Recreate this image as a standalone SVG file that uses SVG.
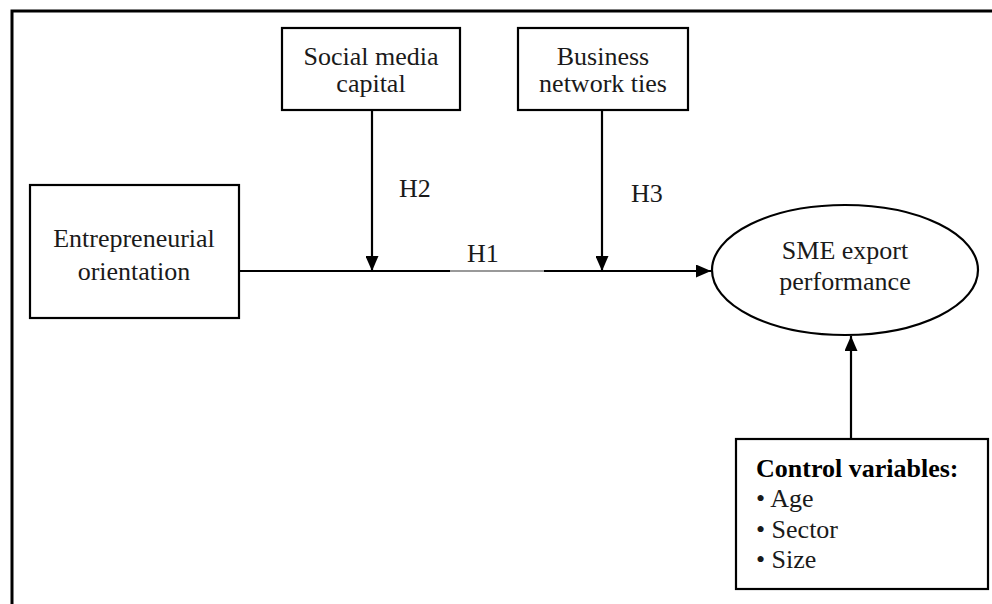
<svg xmlns="http://www.w3.org/2000/svg" width="992" height="604" viewBox="0 0 992 604">
<defs>
<style>
.box{fill:#fff;stroke:#000;stroke-width:2.2}
.t{font-family:"Liberation Serif","Times New Roman",serif;font-size:26px;fill:#1a1a1a;text-anchor:middle}
.l{font-family:"Liberation Serif","Times New Roman",serif;font-size:26px;fill:#1a1a1a}
.b{font-weight:bold;fill:#000}
.c{stroke:#000;stroke-width:2.2;fill:none}
</style>
<marker id="ah" markerWidth="15" markerHeight="13" refX="15" refY="6.5" orient="auto" markerUnits="userSpaceOnUse">
<path d="M0,0 L15,6.5 L0,13 Z" fill="#000"/>
</marker>
</defs>
<rect width="992" height="604" fill="#fff"/>
<path d="M12,604 V11 H992" fill="none" stroke="#000" stroke-width="3"/>

<g id="connectors">
<line class="c" x1="240" y1="271" x2="450" y2="271"/>
<line x1="450" y1="271" x2="544" y2="271" stroke="#777" stroke-width="1.4"/>
<line class="c" x1="544" y1="271" x2="711" y2="271" marker-end="url(#ah)"/>
<line class="c" x1="372" y1="110" x2="372" y2="271" marker-end="url(#ah)"/>
<line class="c" x1="602" y1="110" x2="602" y2="271" marker-end="url(#ah)"/>
<line class="c" x1="851" y1="439" x2="851" y2="336" marker-end="url(#ah)"/>
<text class="l" x="399" y="197">H2</text>
<text class="l" x="631" y="202">H3</text>
<text class="l" x="467" y="262">H1</text>
</g>

<g id="social-media-capital">
<rect class="box" x="282" y="28" width="178" height="82"/>
<text class="t" x="371" y="65">Social media</text>
<text class="t" x="371" y="92">capital</text>
</g>

<g id="business-network-ties">
<rect class="box" x="518" y="28" width="170" height="82"/>
<text class="t" x="603" y="65">Business</text>
<text class="t" x="603" y="92">network ties</text>
</g>

<g id="entrepreneurial-orientation">
<rect class="box" x="30" y="185" width="209" height="133"/>
<text class="t" x="134" y="247">Entrepreneurial</text>
<text class="t" x="134" y="280">orientation</text>
</g>

<g id="sme-export-performance">
<ellipse class="box" cx="845" cy="270" rx="133" ry="65"/>
<text class="t" x="845" y="259">SME export</text>
<text class="t" x="845" y="290">performance</text>
</g>

<g id="control-variables">
<rect class="box" x="736" y="439" width="252" height="150"/>
<text class="l b" x="756" y="477">Control variables:</text>
<text class="l" x="756" y="507">• Age</text>
<text class="l" x="756" y="538">• Sector</text>
<text class="l" x="756" y="568">• Size</text>
</g>
</svg>
